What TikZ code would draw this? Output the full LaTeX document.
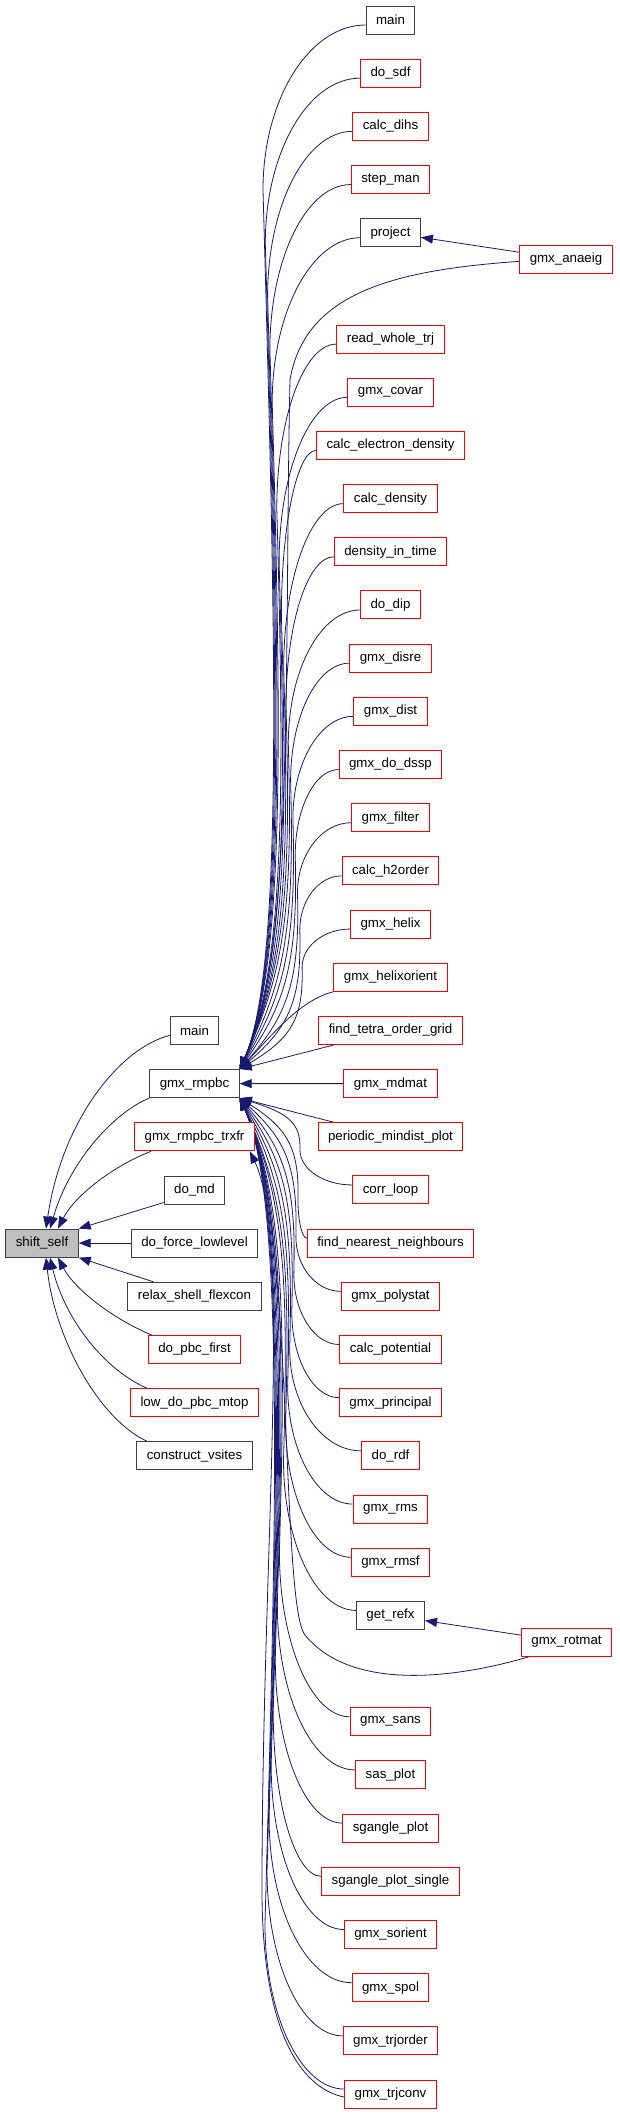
\documentclass[tikz,border=0pt]{standalone}
\usepackage{fontspec}
\setmainfont{Liberation Sans}
\usetikzlibrary{arrows.meta,calc}
\definecolor{edgeblue}{HTML}{191970}
\definecolor{redb}{HTML}{FF0000}
\definecolor{darkb}{HTML}{404040}
\definecolor{grayfill}{HTML}{BFBFBF}
\pgfdeclarelayer{bg}
\pgfsetlayers{bg,main}
\begin{document}
\begin{tikzpicture}[x=1pt,y=-1pt,
  box/.style={draw=darkb, line width=1pt, minimum height=28pt, inner xsep=10pt, inner ysep=0pt, font=\fontsize{13.3}{15}\selectfont, fill=white},
  rbox/.style={box, draw=redb},
  gbox/.style={box, fill=grayfill},
  edge/.style={draw=edgeblue, line width=0.8pt, -{Triangle[length=12pt,width=9pt]}}
]
\useasboundingbox (0,0) rectangle (619,2115);

% right column
\foreach \k/\t/\s in {0/main/box, 1/do\_sdf/rbox, 2/calc\_dihs/rbox, 3/step\_man/rbox, 4/project/box,
  6/read\_whole\_trj/rbox, 7/gmx\_covar/rbox, 8/calc\_electron\_density/rbox, 9/calc\_density/rbox,
  10/density\_in\_time/rbox, 11/do\_dip/rbox, 12/gmx\_disre/rbox, 13/gmx\_dist/rbox, 14/gmx\_do\_dssp/rbox,
  15/gmx\_filter/rbox, 16/calc\_h2order/rbox, 17/gmx\_helix/rbox, 18/gmx\_helixorient/rbox,
  19/find\_tetra\_order\_grid/rbox, 20/gmx\_mdmat/rbox, 21/periodic\_mindist\_plot/rbox, 22/corr\_loop/rbox,
  23/find\_nearest\_neighbours/rbox, 24/gmx\_polystat/rbox, 25/calc\_potential/rbox, 26/gmx\_principal/rbox,
  27/do\_rdf/rbox, 28/gmx\_rms/rbox, 29/gmx\_rmsf/rbox, 30/get\_refx/box, 32/gmx\_sans/rbox,
  33/sas\_plot/rbox, 34/sgangle\_plot/rbox, 35/sgangle\_plot\_single/rbox, 36/gmx\_sorient/rbox,
  37/gmx\_spol/rbox, 38/gmx\_trjorder/rbox, 39/gmx\_trjconv/rbox}
  \node[\s] (n\k) at (390.5, {20+53.18*\k}) {\t};

\node[rbox] (nae) at (566,259.3) {gmx\_anaeig};
\node[rbox] (nrot) at (566.5,1642) {gmx\_rotmat};

% left column
\node[box] (lmain) at (194.5,1030.4) {main};
\node[box] (rmpbc) at (194.5,1083.6) {gmx\_rmpbc};
\node[rbox] (trxfr) at (194.5,1136.8) {gmx\_rmpbc\_trxfr};
\node[box] (domd) at (194.5,1190) {do\_md};
\node[box] (dofl) at (194.5,1243.1) {do\_force\_lowlevel};
\node[gbox] (shift) at (42,1243.1) {shift\_self};
\node[box] (relax) at (194.5,1296.3) {relax\_shell\_flexcon};
\node[rbox] (dopbc) at (194.5,1349.5) {do\_pbc\_first};
\node[rbox] (lowpbc) at (194.5,1402.7) {low\_do\_pbc\_mtop};
\node[box] (cvs) at (194.5,1455.9) {construct\_vsites};

\begin{pgfonlayer}{bg}
% edges into shift_self
\draw[edge] ([yshift=-5pt]lmain.west) .. controls (120,1048) and (62,1120) .. ([xshift=4pt]shift.north);
\draw[edge] (rmpbc.south west) .. controls (115,1112) and (70,1160) .. ([xshift=8pt]shift.north);
\draw[edge] ([xshift=17pt]trxfr.south west) .. controls (115,1165) and (75,1195) .. ([xshift=16pt]shift.north);
\draw[edge] ([yshift=2pt]domd.south west) -- (shift.north east);
\draw[edge] (dofl.west) -- (shift.east);
\draw[edge] ([xshift=26pt]relax.north west) -- (shift.south east);
\draw[edge] ([xshift=4pt]dopbc.north west) .. controls (115,1320) and (75,1290) .. ([xshift=16pt]shift.south);
\draw[edge] ([xshift=17pt]lowpbc.north west) .. controls (105,1370) and (65,1320) .. ([xshift=8pt]shift.south);
\draw[edge] ([xshift=11pt]cvs.north west) .. controls (100,1420) and (55,1340) .. ([xshift=4pt]shift.south);

% upper right edges into gmx_rmpbc
\foreach \k in {0,1,2,3,4,6,7,8,9,10,11,12,13,14,15,16,17} {
  \path (n\k.west); \pgfgetlastxy{\wx}{\wy}
  \pgfmathsetmacro{\Xw}{\wx}
  \pgfmathsetmacro{\Yc}{20+53.18*\k}
  \pgfmathsetmacro{\Ys}{\Yc+5}
  \pgfmathsetmacro{\Xa}{263+2.3*\k}
  \pgfmathsetmacro{\Vv}{max(40,min(170,0.3*(1068-\Yc)))}
  \pgfmathsetmacro{\My}{\Yc+\Vv}
  \pgfmathsetmacro{\Ca}{\Xw-0.55*(\Xw-\Xa)}
  \pgfmathsetmacro{\Cb}{\Ys+0.45*(\My-\Ys)}
  \pgfmathsetmacro{\Dx}{\Xa+0.014*(1068-\My)}
  \pgfmathsetmacro{\Dy}{\My+0.5*(1068-\My)}
  \pgfmathsetmacro{\Ex}{max(\Xa-10,285)}
  \pgfmathsetmacro{\Ey}{1068-min(100,0.3*(1068-\My))}
  \draw[edge] ([yshift=-5pt]n\k.west) .. controls (\Ca,\Ys) and (\Xa,\Cb) .. (\Xa,\My) .. controls (\Dx,\Dy) and (\Ex,\Ey) .. (rmpbc.north east);
}
\draw[edge] ([yshift=-2pt]nae.west) .. controls (400,270) and (305,290) .. (290,380) .. controls (284,650) and (295,958) .. (rmpbc.north east);
\draw[edge] (n18.south west) .. controls (300,1000) and (272,1035) .. (rmpbc.north east);
\draw[edge] (n19) -- (rmpbc.north east);
\draw[edge] (n20.west) -- (rmpbc.east);
\draw[edge] (n21) -- (rmpbc.south east);

% lower right edges into gmx_rmpbc
\foreach \k in {22,23,24,25,26,27,28,29,30,32,33,34,35,36,37,38,39} {
  \path (n\k.west); \pgfgetlastxy{\wx}{\wy}
  \pgfmathsetmacro{\Xw}{\wx}
  \pgfmathsetmacro{\Yc}{20+53.18*\k}
  \pgfmathsetmacro{\Ys}{\Yc-5}
  \pgfmathsetmacro{\Xa}{300-2.06*(\k-22)}
  \pgfmathsetmacro{\Vv}{max(40,min(170,0.3*(\Yc-1098)))}
  \pgfmathsetmacro{\My}{\Yc-\Vv}
  \pgfmathsetmacro{\Ca}{\Xw-0.55*(\Xw-\Xa)}
  \pgfmathsetmacro{\Cb}{\Ys-0.45*(\Ys-\My)}
  \pgfmathsetmacro{\Dx}{\Xa+0.014*(\My-1098)}
  \pgfmathsetmacro{\Dy}{\My-0.5*(\My-1098)}
  \pgfmathsetmacro{\Ex}{max(\Xa-10,285)}
  \pgfmathsetmacro{\Ey}{1098+min(100,0.3*(\My-1098))}
  \draw[edge] ([yshift=5pt]n\k.west) .. controls (\Ca,\Ys) and (\Xa,\Cb) .. (\Xa,\My) .. controls (\Dx,\Dy) and (\Ex,\Ey) .. (rmpbc.south east);
}
\draw[edge] ([xshift=9pt]nrot.south west) .. controls (450,1680) and (350,1690) .. (305,1635) .. controls (280,1604) and (295,1209) .. (rmpbc.south east);

% other edges
\draw[edge] ([yshift=-3pt]n39.west) .. controls (300,2088) and (262,2030) .. (262,1890) .. controls (262,1550) and (292,1240) .. ([xshift=-5pt]trxfr.south east);
\draw[edge] (nae) -- (n4);
\draw[edge] (nrot) -- (n30);
\end{pgfonlayer}
\end{tikzpicture}
\end{document}
